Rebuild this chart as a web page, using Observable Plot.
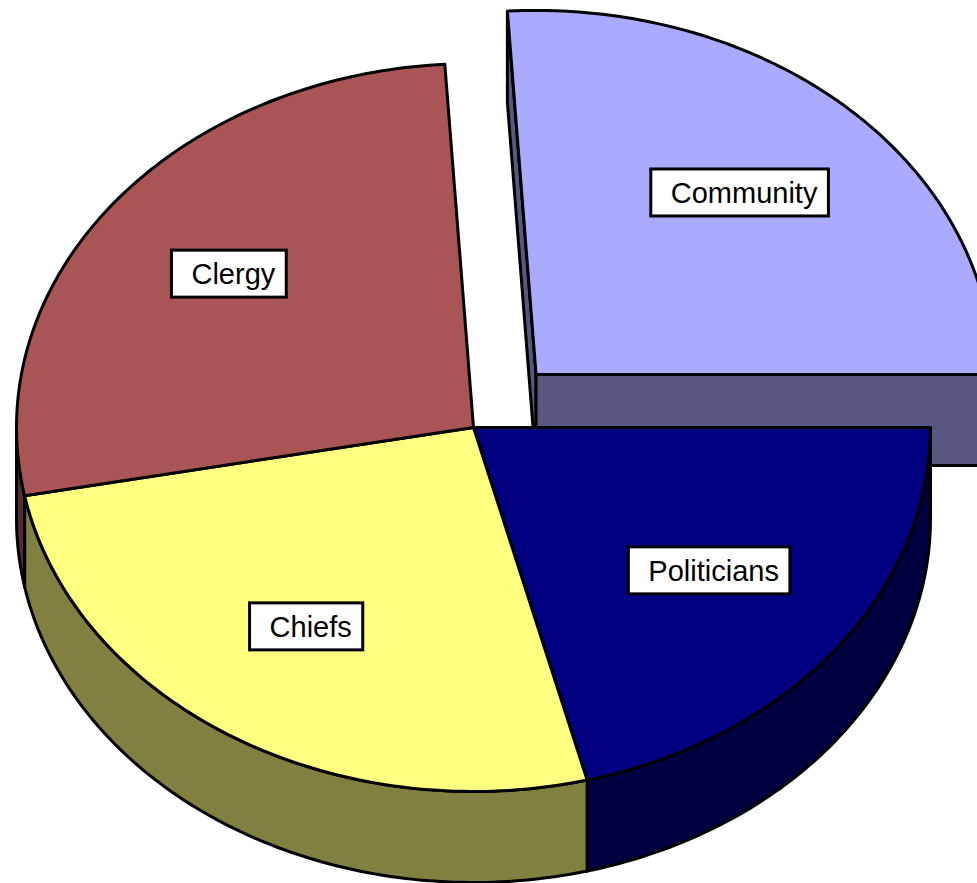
<!DOCTYPE html>
<html><head><meta charset="utf-8">
<script src="https://cdn.jsdelivr.net/npm/d3@7"></script>
<script src="https://cdn.jsdelivr.net/npm/@observablehq/plot@0.6"></script>
<style>body{margin:0;background:#fff}#chart{width:977px;height:883px}</style>
</head><body><div id="chart"></div>
<script>
// ---- data ----
const categories = ["Community", "Politicians", "Chiefs", "Clergy"];
const values = [26, 21, 26, 27];
const topColors = ["#AAAAFF", "#000080", "#FFFF80", "#AA5555"];
const sideColors = ["#575780", "#000040", "#808040", "#552B2B"];
const explode = [0.2, 0, 0, 0];

// ---- layout (style) ----
const W = 977, H = 883;
const R = 457;                 // px per unit radius
const cxPx = 473, cyPx = 427;  // pie center in px
const tilt = 364 / 457;        // ellipse y/x ratio
const depth = 91 / 457;        // thickness
const labelR = 0.665;
const labelDy = -5 / R;        // label lift
const boxDx = -4 / R;          // box offset relative to text
const fontSize = 29;
const fontFamily = "'Liberation Sans', Arial, sans-serif";

const total = d3.sum(values);
const start = -values[0] / total * 2 * Math.PI; // first slice ends at 3 o'clock
const N = 120;

const slices = [];
let a = start;
values.forEach((v, i) => {
  const a0 = a, a1 = a + v / total * 2 * Math.PI;
  a = a1;
  const mid = (a0 + a1) / 2;
  const ox = explode[i] * Math.cos(mid), oy = explode[i] * Math.sin(mid) * tilt;
  slices.push({i, a0, a1, mid, ox, oy});
});

const P = (s, t, r = 1, dz = 0) => [s.ox + r * Math.cos(t), s.oy + r * Math.sin(t) * tilt + dz];
const arc = (s, t0, t1, dz = 0) => {
  const n = Math.max(2, Math.ceil(Math.abs(t1 - t0) / (2 * Math.PI) * N * 3));
  return d3.range(n + 1).map(k => P(s, t0 + (t1 - t0) * k / n, 1, dz));
};

const cutFaces = [], sides = [], tops = [];
let id = 0;
const addPoly = (arr, pts, fill) => {
  const gid = id++;
  pts.concat([pts[0]]).forEach(([x, y]) => arr.push({id: gid, x, y, fill}));
};

slices.forEach(s => {
  const c = [s.ox, s.oy], cd = [s.ox, s.oy + depth];
  // radial cut faces (only those facing the viewer)
  if (Math.cos(s.a0) < -1e-9) {
    addPoly(cutFaces, [c, P(s, s.a0), P(s, s.a0, 1, depth), cd], sideColors[s.i]);
  }
  if (Math.cos(s.a1) > 1e-9) {
    addPoly(cutFaces, [c, P(s, s.a1), P(s, s.a1, 1, depth), cd], sideColors[s.i]);
  }
  // outer side: visible for angles in [0, PI] (mod 2PI)
  for (const k of [-1, 0, 1]) {
    const lo = Math.max(s.a0, k * 2 * Math.PI), hi = Math.min(s.a1, k * 2 * Math.PI + Math.PI);
    if (hi - lo > 1e-6) {
      addPoly(sides, arc(s, lo, hi).concat(arc(s, hi, lo, depth)), sideColors[s.i]);
    }
  }
  // top face
  addPoly(tops, [c].concat(arc(s, s.a0, s.a1)), topColors[s.i]);
});

// labels
const ctx = document.createElement("canvas").getContext("2d");
ctx.font = `${fontSize}px ${fontFamily}`;
const labels = slices.map(s => {
  const [x0, y0] = P(s, s.mid, labelR);
  const x = x0, y = y0 + labelDy;
  const w = (ctx.measureText(categories[s.i]).width + 31) / R;
  const h = 47 / R;
  const bx = x + boxDx;
  return {text: categories[s.i], x, y, x1: bx - w / 2, x2: bx + w / 2, y1: y - h / 2, y2: y + h / 2};
});

const polyMark = data => Plot.line(data, {
  x: "x", y: "y", z: "id", fill: "fill", stroke: "black",
  strokeWidth: 3, strokeLinejoin: "round", curve: "linear"
});

const chart = Plot.plot({
  width: W, height: H,
  margin: 0,
  x: {domain: [-cxPx / R, (W - cxPx) / R], range: [0, W], axis: null},
  y: {domain: [-cyPx / R, (H - cyPx) / R], range: [0, H], axis: null},
  color: {type: "identity"},
  marks: [
    polyMark(cutFaces),
    polyMark(sides),
    polyMark(tops),
    Plot.rect(labels, {x1: "x1", x2: "x2", y1: "y1", y2: "y2", fill: "white", stroke: "black", strokeWidth: 3}),
    Plot.text(labels, {x: "x", y: "y", text: "text", fontSize, fontFamily, fill: "black", dy: 1})
  ]
});
document.getElementById("chart").append(chart);
</script>
</body></html>
